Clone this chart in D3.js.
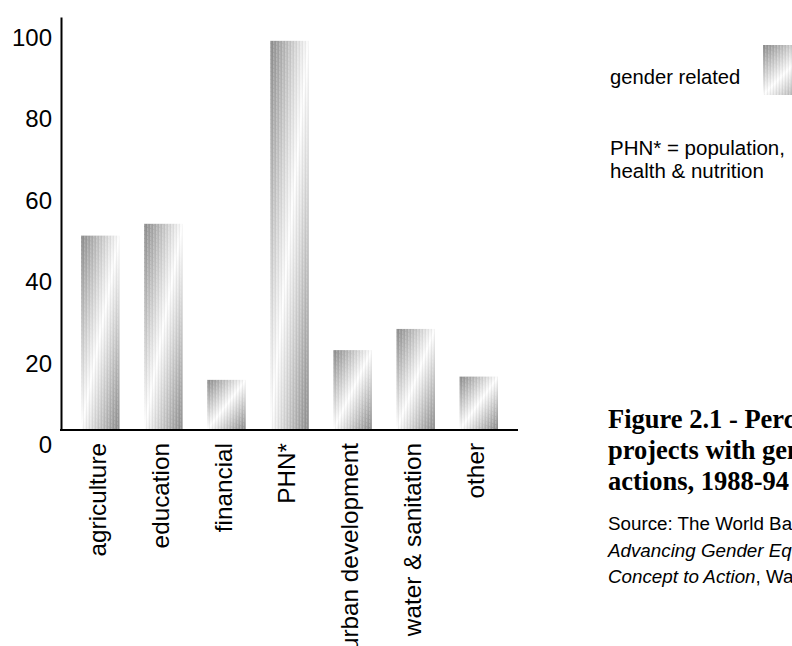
<!DOCTYPE html>
<html>
<head>
<meta charset="utf-8">
<script src="https://cdn.jsdelivr.net/npm/d3@7"></script>
<style>
  body { margin: 0; background: #fff; overflow: hidden; }
  svg { display: block; }
  text { font-family: "Liberation Sans", Arial, sans-serif; fill: #000; }
  .serif { font-family: "Liberation Serif", "Times New Roman", serif; }
</style>
</head>
<body>
<svg id="chart" width="792" height="646"></svg>
<script>
// share of projects with gender related actions, by sector
let sectors = ['agriculture', 'education', 'financial', 'PHN*', 'urban development', 'water & sanitation', 'other'];
let percents = [47.7, 50.6, 12.3, 95.5, 19.6, 24.8, 13.1];
let yTicks = [0, 20, 40, 60, 80, 100];

let titleLines = ['Figure 2.1 - Percentage of', 'projects with gender-related', 'actions, 1988-94'];
let noteLines = ['PHN* = population,', 'health & nutrition'];

let svg = d3.select('#chart');

// gray -> white -> gray along the diagonal of each bar
let defs = svg.append('defs');
let grad = defs.append('linearGradient')
    .attr('id', 'fill')
    .attr('x1', 0).attr('y1', 0).attr('x2', 1).attr('y2', 1);
grad.append('stop').attr('offset', '0%').attr('stop-color', '#8e8e8e');
grad.append('stop').attr('offset', '50%').attr('stop-color', '#ffffff');
grad.append('stop').attr('offset', '100%').attr('stop-color', '#8e8e8e');

// fine dither texture on top of the gradient
let tex = defs.append('pattern')
    .attr('id', 'tex')
    .attr('width', 3).attr('height', 4)
    .attr('patternUnits', 'userSpaceOnUse')
    .attr('patternTransform', 'skewY(18)');
tex.append('rect').attr('x', 0).attr('y', 0).attr('width', 1).attr('height', 3)
    .attr('fill', '#fff').attr('opacity', 0.2);
tex.append('rect').attr('x', 2).attr('y', 0).attr('width', 1).attr('height', 4)
    .attr('fill', '#000').attr('opacity', 0.06);

let x = d3.scaleBand()
    .domain(sectors)
    .range([61, 518])
    .paddingInner(0.39)
    .paddingOuter(0.317);

let y = d3.scaleLinear()
    .domain([0, 101.35])
    .range([430, 17]);

// bars
let bars = svg.append('g');
bars.selectAll('rect.bar')
    .data(percents)
    .join('rect')
    .attr('class', 'bar')
    .attr('x', (d, i) => x(sectors[i]))
    .attr('y', d => y(d))
    .attr('width', x.bandwidth())
    .attr('height', d => y(0) - y(d))
    .attr('fill', 'url(#fill)');
bars.selectAll('rect.tex')
    .data(percents)
    .join('rect')
    .attr('class', 'tex')
    .attr('x', (d, i) => x(sectors[i]))
    .attr('y', d => y(d))
    .attr('width', x.bandwidth())
    .attr('height', d => y(0) - y(d))
    .attr('fill', 'url(#tex)');

// y axis, no tick marks, labels sit a bit below their gridline
let yAxis = svg.append('g')
    .attr('transform', 'translate(61,0)')
    .call(d3.axisLeft(y).tickValues(yTicks).tickSize(0).tickPadding(9));
yAxis.select('.domain').attr('stroke', '#000').attr('stroke-width', 2);
yAxis.selectAll('text')
    .attr('font-size', 24)
    .attr('font-family', '"Liberation Sans", Arial, sans-serif')
    .attr('transform', 'translate(0,15)');

// x axis line
let xAxis = svg.append('g')
    .attr('transform', 'translate(0,430)')
    .call(d3.axisBottom(x).tickSize(0).tickFormat(''));
xAxis.select('.domain').attr('stroke', '#000').attr('stroke-width', 2)
    .attr('d', 'M60,0H518');

// rotated category labels
svg.append('g').selectAll('text')
    .data(sectors)
    .join('text')
    .attr('transform', d => `translate(${x(d) + x.bandwidth() / 2 - 3},443) rotate(-90)`)
    .attr('text-anchor', 'end')
    .attr('dy', '0.35em')
    .attr('font-size', 24.3)
    .text(d => d);

// legend
svg.append('text')
    .attr('x', 610).attr('y', 84)
    .attr('font-size', 20.2)
    .text('gender related');
svg.append('rect')
    .attr('x', 763).attr('y', 45)
    .attr('width', 50).attr('height', 50)
    .attr('fill', 'url(#fill)');
svg.append('rect')
    .attr('x', 763).attr('y', 45)
    .attr('width', 50).attr('height', 50)
    .attr('fill', 'url(#tex)');

svg.append('g').selectAll('text')
    .data(noteLines)
    .join('text')
    .attr('x', 610)
    .attr('y', (d, i) => 155 + i * 23)
    .attr('font-size', 20.5)
    .text(d => d);

// title
svg.append('g').selectAll('text')
    .data(titleLines)
    .join('text')
    .attr('class', 'serif')
    .attr('x', 608)
    .attr('y', (d, i) => 428 + i * 31)
    .attr('font-size', 26.5)
    .attr('font-weight', 'bold')
    .text(d => d);

// source
let src = svg.append('g').attr('font-size', 18.8);
src.append('text').attr('x', 608).attr('y', 530)
    .text('Source: The World Bank (1995),');
src.append('text').attr('x', 608).attr('y', 557)
    .attr('font-style', 'italic')
    .text('Advancing Gender Equality: From');
let l3 = src.append('text').attr('x', 608).attr('y', 583);
l3.append('tspan').attr('font-style', 'italic').text('Concept to Action');
l3.append('tspan').text(', Washington, D.C.');
</script>
</body>
</html>
